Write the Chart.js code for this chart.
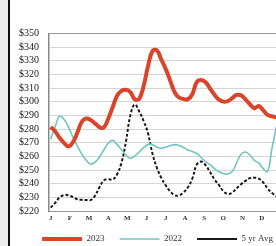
<!DOCTYPE html>
<html>
<head>
<meta charset="utf-8">
<script src="https://cdn.jsdelivr.net/npm/chart.js@4/dist/chart.umd.min.js"></script>
<style>
  html, body { margin: 0; padding: 0; width: 276px; height: 246px; overflow: hidden; background: #ffffff; }
  #strip { position: absolute; left: 0; top: 0; width: 8px; height: 246px; background: #ececec; }
  #rule { position: absolute; left: 8px; top: 0; width: 2px; height: 246px; background: #111; }
  #wrap { position: absolute; left: 10px; top: 0; width: 295px; height: 259px; }
</style>
</head>
<body>
<div id="strip"></div>
<div id="rule"></div>
<div id="wrap"><canvas id="c"></canvas></div>
<script>
// Month tick labels
const monthLabels = ['J','F','M','A','M','J','J','A','S','O','N','D'];
// Weekly index (week 0 = first week of January)
const weeks = Array.from({length: 52}, (_, i) => i);
// Price values ($), one per week
const series2023 = [281.5,278.4,273.6,269.9,267.2,270.2,277.1,285.2,287.7,286.7,284.2,281.4,281.1,287.6,296.0,304.4,308.0,308.8,307.1,301.8,302.2,311.5,326.2,337.2,337.6,330.8,323.9,315.5,307.0,303.1,302.0,301.8,305.5,314.5,316.0,314.3,309.7,305.2,301.6,300.1,300.5,302.6,305.0,304.7,301.8,298.2,295.3,296.9,293.9,290.4,289.3,288.6];
const series2022 = [272.6,281.8,289.4,287.2,281.6,274.3,267.7,261.8,257.3,254.4,255.7,259.4,264.7,269.7,271.7,268.8,264.8,261.0,258.5,260.4,263.2,266.4,268.8,268.6,266.7,265.9,266.8,267.8,268.6,267.9,266.5,264.7,263.6,262.2,259.2,256.2,254.0,251.0,248.7,247.4,247.1,248.9,255.2,261.6,263.2,261.0,257.1,255.2,251.0,249.0,266.0,282.0];
const series5yr = [222.5,226.0,229.9,231.7,231.5,230.2,228.6,228.2,228.0,228.0,231.1,237.3,242.4,243.3,243.0,246.9,255.4,270.7,290.2,298.0,292.9,285.9,276.8,261.9,251.6,244.2,238.7,234.3,231.6,231.4,233.5,237.4,243.8,254.0,256.2,253.5,248.6,243.1,239.1,234.5,232.5,233.4,236.7,239.6,242.1,244.1,244.4,243.7,241.0,236.5,233.1,230.8];
const seriesNames = ['2023', '2022', '5 yr Avg'];

const pts = vals => weeks.map((w, i) => ({x: w, y: vals[i]}));
const weeksPerMonth = 52 / 12;
const serif = '"Liberation Serif", "DejaVu Serif", serif';

// Nudge the legend up a few pixels after layout
const legendLift = {
  id: 'legendLift',
  afterLayout(chart) {
    const lg = chart.legend;
    if (lg) { lg.top -= 5.5; lg.bottom -= 5.5; }
  }
};

new Chart(document.getElementById('c'), {
  type: 'line',
  data: {
    datasets: [
      { label: seriesNames[0], data: pts(series2023), borderColor: '#d9442b', backgroundColor: '#d9442b', borderWidth: 4, pointRadius: 0, tension: 0.4 },
      { label: seriesNames[1], data: pts(series2022), borderColor: '#72c4c2', backgroundColor: '#72c4c2', borderWidth: 1.6, pointRadius: 0, tension: 0.4 },
      { label: seriesNames[2], data: pts(series5yr), borderColor: '#1a1a1a', backgroundColor: '#1a1a1a', borderWidth: 2, borderDash: [3, 2], pointRadius: 0, tension: 0.4 }
    ]
  },
  plugins: [legendLift],
  options: {
    responsive: true,
    maintainAspectRatio: false,
    animation: false,
    layout: { padding: { left: 0, right: 0, top: 33.5, bottom: 0 } },
    plugins: {
      tooltip: { enabled: false },
      legend: {
        position: 'bottom',
        align: 'center',
        labels: {
          usePointStyle: true,
          pointStyle: 'line',
          pointStyleWidth: 40,
          padding: 15,
          color: '#333',
          font: { family: serif, size: 9 }
        }
      }
    },
    scales: {
      x: {
        type: 'linear',
        min: -0.38,
        max: 53,
        afterFit: s => { s.height = 14; },
        afterBuildTicks: s => { s.ticks = monthLabels.map((m, i) => ({ value: i * weeksPerMonth })); },
        ticks: {
          autoSkip: false,
          maxRotation: 0,
          padding: 3,
          color: '#333',
          font: { family: serif, size: 7, weight: 'bold' },
          callback: (v, i) => monthLabels[i]
        },
        grid: { display: false, drawTicks: false },
        border: { display: true, color: '#999', width: 1 }
      },
      y: {
        min: 220,
        max: 350,
        afterFit: s => { s.width = 39; },
        ticks: {
          stepSize: 10,
          autoSkip: false,
          padding: 10,
          color: '#222',
          font: { family: serif, size: 10 },
          callback: v => '$' + v
        },
        grid: {
          drawTicks: false,
          color: ctx => ctx.tick && ctx.tick.value === 350 ? '#999' : '#d4d4d4',
          lineWidth: 1
        },
        border: { display: true, color: '#888', width: 1.5 }
      },
      yRight: {
        axis: 'y',
        position: 'right',
        min: 220,
        max: 350,
        afterFit: s => { s.width = 19.7; },
        ticks: { display: false },
        grid: { display: false, drawTicks: false },
        border: { display: false }
      }
    }
  }
});
</script>
</body>
</html>
